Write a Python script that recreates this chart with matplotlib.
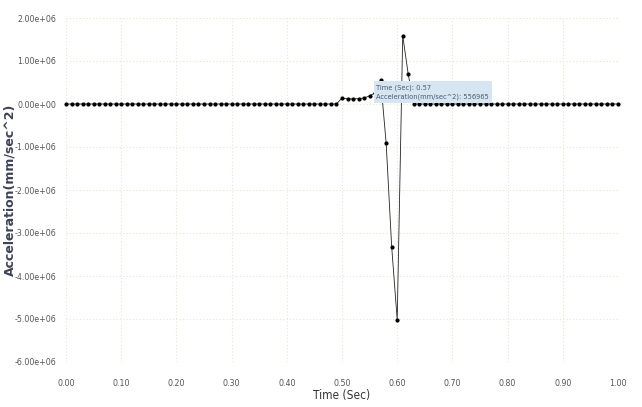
import numpy as np
from matplotlib import pyplot as plt

# time samples, every 0.01 s
time = np.round(np.arange(0, 101) * 0.01, 2)

# acceleration is flat before 0.50 s and after 0.62 s
accel_pulse_times = [0.50, 0.51, 0.52, 0.53, 0.54, 0.55, 0.56, 0.57,
                     0.58, 0.59, 0.60, 0.61, 0.62]
accel_pulse_values = [140000, 120000, 120000, 125000, 140000, 190000, 260000, 556965,
                      -910000, -3320000, -5020000, 1590000, 690000]

accel = np.zeros(len(time))
for t, a in zip(accel_pulse_times, accel_pulse_values):
    accel[int(round(t * 100))] = a

tip_time = 0.57
tip_accel = 556965

plt.rcParams['font.family'] = ['DejaVu Sans']
plt.rcParams['font.stretch'] = 'condensed'

fig = plt.figure(figsize=(6.42, 4.07), dpi=100)
ax = fig.add_axes([66 / 642, 1 - 362 / 407, (618 - 66) / 642, (362 - 18) / 407])

ax.plot(time, accel, color="#222222", linewidth=0.6, marker='o', markersize=2.0,
        markerfacecolor="black", markeredgecolor="black", clip_on=False, zorder=3)

ax.set_xlim(0, 1)
ax.set_ylim(-6e6, 2e6)
ax.set_xticks(np.arange(0, 1.01, 0.1))
ax.set_xticklabels([f"{v:.2f}" for v in np.arange(0, 1.01, 0.1)])
ax.set_yticks(np.arange(-6e6, 2.01e6, 1e6))
ax.set_yticklabels([f"{v:.2e}" for v in np.arange(-6e6, 2.01e6, 1e6)])

for s in ax.spines.values():
    s.set_visible(False)
ax.tick_params(length=0, labelsize=6.3, labelcolor="#555555")
ax.tick_params(axis='x', pad=12)
ax.tick_params(axis='y', pad=7)
ax.grid(True, color="#e9e5cf", linestyle=(0, (1, 2)), linewidth=0.8)

ax.set_xlabel("Time (Sec)", fontsize=8.5, color="#333333", labelpad=1)
fig.text(10 / 642, 1 - 190 / 407, "Acceleration(mm/sec^2)", rotation=90,
         ha="center", va="center", fontsize=9, color="#3d4258",
         fontweight="bold", fontstretch="normal")

ax.annotate(f"Time (Sec): {tip_time:.2f}\nAcceleration(mm/sec^2): {tip_accel}",
            xy=(tip_time, tip_accel), xytext=(-3, -3), textcoords="offset points",
            ha="left", va="top", fontsize=5.3, color="#4a5a6a", linespacing=1.6,
            bbox=dict(boxstyle="square,pad=0.4", facecolor="#d5e5f2", edgecolor="none"),
            zorder=5)

fig.savefig("out.png", dpi=100)
